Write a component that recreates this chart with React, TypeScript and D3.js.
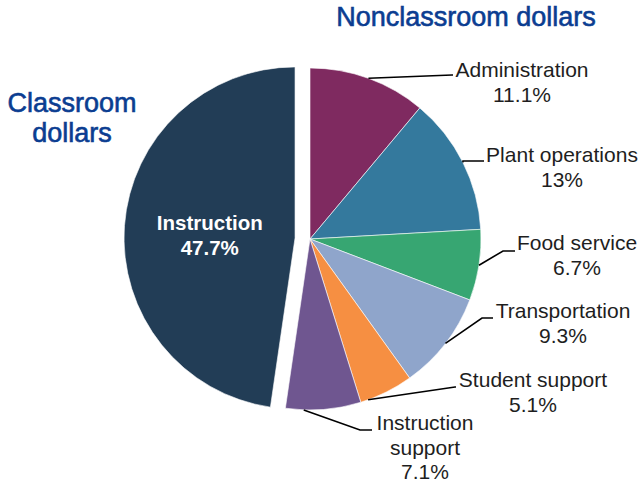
import React from "react";
import * as d3 from "d3";

const categories = ["Administration", "Plant operations", "Food service", "Transportation", "Student support", "Instruction support", "Instruction"];
const values = [11.1, 13, 6.7, 9.3, 5.1, 7.1, 47.7];
const valueLabels = ["11.1%", "13%", "6.7%", "9.3%", "5.1%", "7.1%", "47.7%"];
const colors = ["#7f2a60", "#34799d", "#37a672", "#8fa5cb", "#f68f42", "#6f5690", "#223d56"];

// label layout (annotation placement): leader angle shift (deg), elbow point, end, text center x, first baseline, lines
const labelLayout = [
  { shift: 0, elbow: [452, 75], end: [453, 75], tx: 522, ty: 77, lines: ["Administration", "11.1%"] },
  { shift: 0, elbow: [463, 161], end: [484, 161], tx: 562, ty: 162, lines: ["Plant operations", "13%"] },
  { shift: 0, elbow: [503, 251], end: [515, 251], tx: 577, ty: 250, lines: ["Food service", "6.7%"] },
  { shift: 0, elbow: [482, 318], end: [493, 318], tx: 563, ty: 318, lines: ["Transportation", "9.3%"] },
  { shift: 6.6, elbow: [455, 387], end: [456, 387], tx: 533, ty: 387, lines: ["Student support", "5.1%"] },
  { shift: 6.6, elbow: [360, 430], end: [372, 430], tx: 425, ty: 430, lines: ["Instruction", "support", "7.1%"] },
];

const W = 639, H = 484;
const cx = 310, cy = 239, R = 171;
const explode = 15;

export default function App() {
  const data = categories.map((c, i) => ({ name: c, value: values[i], label: valueLabels[i], color: colors[i] }));
  const pie = d3.pie<any>().sort(null).value((d) => d.value).startAngle(0).endAngle(2 * Math.PI);
  const arcs = pie(data);
  const arc = d3.arc<any>().innerRadius(0).outerRadius(R);
  const font = "'Liberation Sans', Arial, Helvetica, sans-serif";
  const blue = "#0b3d91";

  return (
    <svg width={W} height={H} style={{ position: "absolute", left: 0, top: 0, background: "#fff" }}>
      <g transform={`translate(${cx},${cy})`}>
        {arcs.map((a, i) => {
          const mid = (a.startAngle + a.endAngle) / 2;
          const isMain = a.data.name === "Instruction";
          const dx = isMain ? Math.sin(mid) * explode : 0;
          const dy = isMain ? -Math.cos(mid) * explode : 0;
          return (
            <g key={a.data.name} transform={`translate(${dx},${dy})`}>
              <path d={arc(a) as string} fill={a.data.color} stroke="#ffffff" strokeWidth={0.6} />
              {isMain && (() => {
                const [lx, ly] = arc.centroid(a);
                return (
                  <text x={lx} y={ly} textAnchor="middle" fill="#fff" fontFamily={font} fontWeight="bold" fontSize={20.5}>
                    <tspan x={lx} y={ly - 2}>{a.data.name}</tspan>
                    <tspan x={lx} y={ly + 23}>{a.data.label}</tspan>
                  </text>
                );
              })()}
            </g>
          );
        })}
      </g>
      {arcs.slice(0, labelLayout.length).map((a, i) => {
        const L = labelLayout[i];
        const mid = (a.startAngle + a.endAngle) / 2 + (L.shift * Math.PI) / 180;
        const sx = cx + Math.sin(mid) * R;
        const sy = cy - Math.cos(mid) * R;
        return (
          <g key={"lab" + i}>
            <polyline points={`${sx},${sy} ${L.elbow[0]},${L.elbow[1]} ${L.end[0]},${L.end[1]}`} fill="none" stroke="#000" strokeWidth={1.6} />
            <text textAnchor="middle" fontFamily={font} fontSize={21} fill="#1e1e1e">
              {L.lines.map((t, k) => (
                <tspan key={k} x={L.tx} y={L.ty + k * 24.5}>{t}</tspan>
              ))}
            </text>
          </g>
        );
      })}
      <text x={466} y={26} textAnchor="middle" fontFamily={font} fontSize={27} fill={blue} stroke={blue} strokeWidth={0.6}>Nonclassroom dollars</text>
      <text textAnchor="middle" fontFamily={font} fontSize={27} fill={blue} stroke={blue} strokeWidth={0.6}>
        <tspan x={72} y={112}>Classroom</tspan>
        <tspan x={72} y={142}>dollars</tspan>
      </text>
    </svg>
  );
}
